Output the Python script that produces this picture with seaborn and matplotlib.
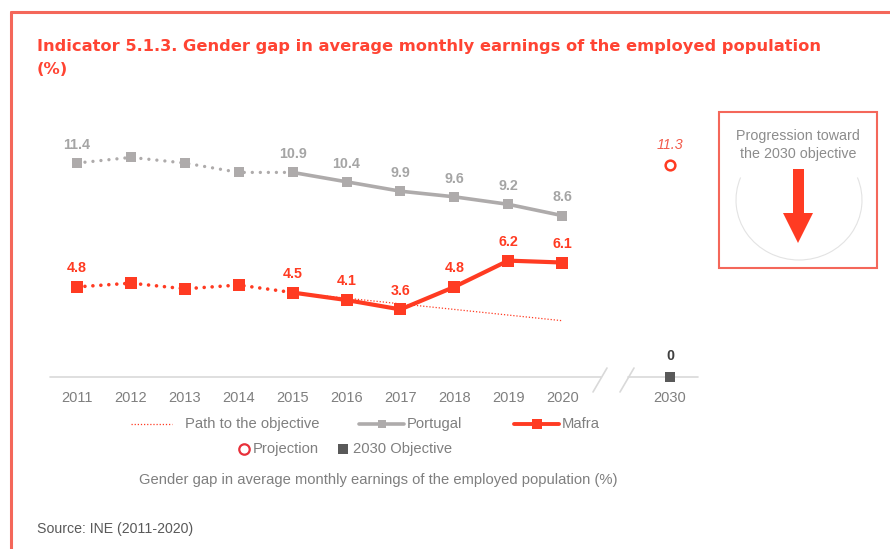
import matplotlib
matplotlib.use("Agg")
import matplotlib.pyplot as plt
import seaborn as sns
from matplotlib.lines import Line2D
from matplotlib.patches import Rectangle, Arc, Polygon

years = ["2011", "2012", "2013", "2014", "2015", "2016", "2017", "2018", "2019", "2020"]
positions = [0, 1, 2, 3, 4, 5, 6, 7, 8, 9]
portugal = [11.4, 11.7, 11.4, 10.9, 10.9, 10.4, 9.9, 9.6, 9.2, 8.6]
mafra = [4.8, 5.0, 4.7, 4.9, 4.5, 4.1, 3.6, 4.8, 6.2, 6.1]
labelled = [0, 4, 5, 6, 7, 8, 9]   # points that carry a value label
path_pos = [4, 5, 6, 7, 8, 9]
path_vals = [4.5, 4.2, 3.9, 3.6, 3.3, 3.0]
target_year = "2030"
target_pos = 11
projection = 11.3
objective = 0

RED = "#ff3b22"
GREY = "#aeabab"
TXT = "#7f7f7f"
FRAME = "#f4675a"

sns.set_theme(style="white")
plt.rcParams["font.family"] = ["Liberation Sans", "DejaVu Sans"]

W, H = 890, 549
fig = plt.figure(figsize=(8.9, 5.49), dpi=100)

def fx(x):
    return x / W

def fy(y):
    return 1 - y / H

# broken axis line (drawn under the axes)
AX = "#d9d9d9"
fig.add_artist(Line2D([fx(50), fx(601)], [fy(377), fy(377)], color=AX, lw=1.2, zorder=-1))
fig.add_artist(Line2D([fx(628), fx(698)], [fy(377), fy(377)], color=AX, lw=1.2, zorder=-1))
fig.add_artist(Line2D([fx(593), fx(607)], [fy(392), fy(368)], color=AX, lw=1.2, zorder=-1))
fig.add_artist(Line2D([fx(620), fx(634)], [fy(392), fy(368)], color=AX, lw=1.2, zorder=-1))

# plot area: index -0.5 .. 11.52, value 0 .. 13
ax = fig.add_axes([fx(50), fy(377), fx(698) - fx(50), fy(133) - fy(377)])
ax.set_xlim(-0.5, 11.52)
ax.set_ylim(0, 13)

# path to the objective
sns.lineplot(x=path_pos, y=path_vals, ax=ax, color=RED, linewidth=0.9,
             linestyle=(0, (1, 1.5)), zorder=2)

# Portugal
sns.lineplot(x=positions[:5], y=portugal[:5], ax=ax, color=GREY, linewidth=2.4,
             linestyle=(0, (0.01, 2.4)), dash_capstyle="round", zorder=3)
sns.lineplot(x=positions[4:], y=portugal[4:], ax=ax, color=GREY, linewidth=2.6, zorder=3)
sns.lineplot(x=positions, y=portugal, ax=ax, color=GREY, linewidth=0, marker="s",
             markersize=7.5, markeredgecolor=GREY, markeredgewidth=0, zorder=4)

# Mafra
sns.lineplot(x=positions[:5], y=mafra[:5], ax=ax, color=RED, linewidth=2.6,
             linestyle=(0, (0.01, 2.2)), dash_capstyle="round", zorder=5)
sns.lineplot(x=positions[4:], y=mafra[4:], ax=ax, color=RED, linewidth=3.0, zorder=5)
sns.lineplot(x=positions, y=mafra, ax=ax, color=RED, linewidth=0, marker="s",
             markersize=8.5, markeredgecolor=RED, markeredgewidth=0, zorder=6)

# projection and objective
sns.lineplot(x=[target_pos], y=[projection], ax=ax, color=RED, linewidth=0, marker="o",
             markersize=7, markerfacecolor="white", markeredgecolor=RED,
             markeredgewidth=1.8, zorder=6)
sns.lineplot(x=[target_pos], y=[objective], ax=ax, color="#595959", linewidth=0, marker="s",
             markersize=7, markeredgecolor="#595959", markeredgewidth=0, zorder=6,
             clip_on=False)

for i in labelled:
    ax.annotate(f"{portugal[i]:.1f}", (positions[i], portugal[i]), xytext=(0, 8),
                textcoords="offset points", ha="center", va="bottom",
                fontsize=10.3, fontweight="bold", color="#a5a5a5")
    ax.annotate(f"{mafra[i]:.1f}", (positions[i], mafra[i]), xytext=(0, 8.5),
                textcoords="offset points", ha="center", va="bottom",
                fontsize=10.3, fontweight="bold", color=RED)
ax.annotate(f"{projection:.1f}", (target_pos, projection), xytext=(0, 9),
            textcoords="offset points", ha="center", va="bottom",
            fontsize=10.3, fontstyle="italic", color="#f25a4a")
ax.annotate(f"{objective}", (target_pos, objective), xytext=(0, 10),
            textcoords="offset points", ha="center", va="bottom",
            fontsize=10.3, fontweight="bold", color="#404040")

ax.set_xticks(positions + [target_pos], years + [target_year])
ax.set_yticks([])
ax.tick_params(axis="x", length=0, pad=10, labelsize=10.5, labelcolor=TXT)
for s in ax.spines.values():
    s.set_visible(False)
ax.patch.set_alpha(0)
ax.set_xlabel("")
ax.set_ylabel("")

# outer frame
fig.add_artist(Line2D([fx(11), fx(890)], [fy(12), fy(12)], color=FRAME, lw=2.2))
fig.add_artist(Line2D([fx(11), fx(11)], [fy(12), fy(549)], color=FRAME, lw=2.2))

title_font = ["DejaVu Sans", "Liberation Sans"]
fig.text(fx(37), fy(47), "Indicator 5.1.3. Gender gap in average monthly earnings of the employed population",
         fontsize=11.7, fontweight="bold", color="#ff4433", va="center", ha="left",
         family=title_font)
fig.text(fx(37), fy(69), "(%)", fontsize=11.7, fontweight="bold", color="#ff4433",
         va="center", ha="left", family=title_font)

# progression box
fig.add_artist(Rectangle((fx(719), fy(268)), fx(877) - fx(719), fy(112) - fy(268),
                         fill=False, edgecolor=FRAME, lw=1.5))
fig.text(fx(798), fy(145), "Progression toward\nthe 2030 objective", ha="center",
         va="center", fontsize=10.3, color="#8c8c8c", linespacing=1.45)
fig.add_artist(Arc((fx(799), fy(200)), fx(126), 120 / H, theta1=148, theta2=392,
                   color="#e3e3e3", lw=0.8))
fig.add_artist(Rectangle((fx(793), fy(214)), fx(11), fy(169) - fy(214), color=RED, lw=0))
fig.add_artist(Polygon([(fx(783), fy(213)), (fx(813), fy(213)), (fx(798), fy(243))],
                       closed=True, color=RED, lw=0))

# legend
LEG = 10.6
fig.add_artist(Line2D([fx(131), fx(172)], [fy(424), fy(424)], color=RED, lw=0.9,
                      linestyle=(0, (1, 1.5))))
fig.text(fx(185), fy(424), "Path to the objective", fontsize=LEG, color=TXT, va="center")
fig.add_artist(Line2D([fx(359), fx(382), fx(404)], [fy(424)] * 3, color=GREY, lw=2.6,
                      marker="s", markersize=6, markevery=[1], markeredgewidth=0))
fig.text(fx(407), fy(424), "Portugal", fontsize=LEG, color=TXT, va="center")
fig.add_artist(Line2D([fx(514), fx(537), fx(559)], [fy(424)] * 3, color=RED, lw=2.8,
                      marker="s", markersize=6.5, markevery=[1], markeredgewidth=0))
fig.text(fx(562), fy(424), "Mafra", fontsize=LEG, color=TXT, va="center")
fig.add_artist(Line2D([fx(244)], [fy(449)], color="#e8303a", lw=0, marker="o",
                      markersize=7.5, markerfacecolor="white", markeredgewidth=1.6))
fig.text(fx(253), fy(449), "Projection", fontsize=LEG, color=TXT, va="center")
fig.add_artist(Line2D([fx(343)], [fy(449)], color="#595959", lw=0, marker="s",
                      markersize=7, markeredgewidth=0))
fig.text(fx(353), fy(449), "2030 Objective", fontsize=LEG, color=TXT, va="center")

fig.text(fx(378), fy(480), "Gender gap in average monthly earnings of the employed population (%)",
         fontsize=LEG, color=TXT, ha="center", va="center")
fig.text(fx(37), fy(529), "Source: INE (2011-2020)", fontsize=10.2, color="#595959", va="center")

fig.savefig("out.png", dpi=100)
